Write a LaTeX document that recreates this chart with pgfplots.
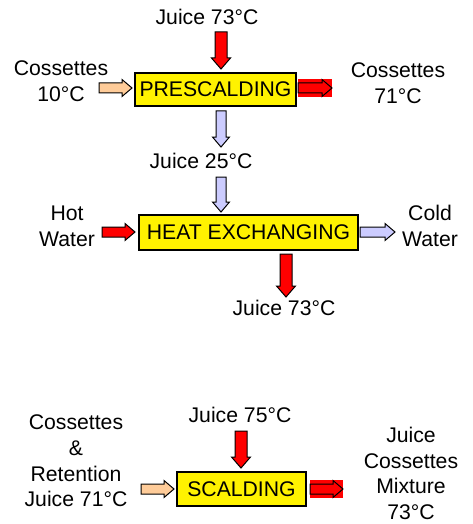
\documentclass[border=0pt]{standalone}
\usepackage{fontspec}
\setmainfont{Liberation Sans}
\usepackage{pgfplots}
\pgfplotsset{compat=1.18}
\definecolor{peach}{HTML}{FFCC99}
\definecolor{lav}{HTML}{CCCCFF}
\tikzset{txt/.style={font=\fontsize{21.2}{25.7}\selectfont, align=center, inner sep=0pt}}
\begin{document}
\begin{tikzpicture}
\begin{axis}[
  width=472pt, height=524pt, scale only axis,
  xmin=0, xmax=472, ymin=0, ymax=524, y dir=reverse,
  hide axis, clip=false,
]
% boxes
\addplot[fill=yellow, draw=black, line width=1.2pt] coordinates {(135,73)(296,73)(296,106)(135,106)} --cycle;
\addplot[fill=yellow, draw=black, line width=1.2pt] coordinates {(139,215)(358,215)(358,250)(139,250)} --cycle;
\addplot[fill=yellow, draw=black, line width=1.2pt] coordinates {(177,472)(306,472)(306,506)(177,506)} --cycle;
% red backgrounds behind right arrows
\addplot[fill=red, draw=none] coordinates {(298,79)(332,79)(332,97)(298,97)} --cycle;
\addplot[fill=red, draw=none] coordinates {(310,480)(343,480)(343,498)(310,498)} --cycle;
% arrows
\addplot[fill=red, draw=black, line width=1pt] coordinates {(215,32)(227,32)(227,58)(230.5,58)(221,69)(211.5,58)(215,58)} --cycle;
\addplot[fill=peach, draw=black, line width=1pt] coordinates {(99,83)(122,83)(122,79.5)(132,88)(122,96.5)(122,93)(99,93)} --cycle;
\addplot[fill=red, draw=black, line width=1pt] coordinates {(298,83)(322,83)(322,79.5)(332,88)(322,96.5)(322,93)(298,93)} --cycle;
\addplot[fill=lav, draw=black, line width=1pt] coordinates {(216,111)(226,111)(226,137)(229.5,137)(221,147)(212.5,137)(216,137)} --cycle;
\addplot[fill=lav, draw=black, line width=1pt] coordinates {(216,177)(226,177)(226,202)(229.5,202)(221,212)(212.5,202)(216,202)} --cycle;
\addplot[fill=red, draw=black, line width=1pt] coordinates {(102,227)(125,227)(125,223.5)(135,232)(125,240.5)(125,237)(102,237)} --cycle;
\addplot[fill=lav, draw=black, line width=1pt] coordinates {(360,227)(385,227)(385,223.5)(395,232)(385,240.5)(385,237)(360,237)} --cycle;
\addplot[fill=red, draw=black, line width=1pt] coordinates {(280,254)(292,254)(292,286)(295.5,286)(286,297)(276.5,286)(280,286)} --cycle;
\addplot[fill=red, draw=black, line width=1pt] coordinates {(235,431)(247,431)(247,457)(250.5,457)(241,468)(231.5,457)(235,457)} --cycle;
\addplot[fill=peach, draw=black, line width=1pt] coordinates {(141,484)(164,484)(164,480.5)(174,489)(164,497.5)(164,494)(141,494)} --cycle;
\addplot[fill=red, draw=black, line width=1pt] coordinates {(310,484)(333,484)(333,480.5)(343,489)(333,497.5)(333,494)(310,494)} --cycle;
% texts
\node[txt] at (axis cs:215.5,89.5) {PRESCALDING};
\node[txt] at (axis cs:248.5,232.5) {HEAT EXCHANGING};
\node[txt] at (axis cs:241.5,489) {SCALDING};
\node[txt] at (axis cs:207,17) {Juice 73°C};
\node[txt] at (axis cs:61,81) {Cossettes\\10°C};
\node[txt] at (axis cs:398,83) {Cossettes\\71°C};
\node[txt] at (axis cs:201,161) {Juice 25°C};
\node[txt] at (axis cs:67,226) {Hot\\Water};
\node[txt] at (axis cs:430,226) {Cold\\Water};
\node[txt] at (axis cs:284,308) {Juice 73°C};
\node[txt] at (axis cs:240,415) {Juice 75°C};
\node[txt] at (axis cs:76,461) {Cossettes\\\&\\Retention\\Juice 71°C};
\node[txt] at (axis cs:411,473.5) {Juice\\Cossettes\\Mixture\\73°C};
\end{axis}
\pgfresetboundingbox
\path (current axis.south west) rectangle (current axis.north east);
\end{tikzpicture}
\end{document}
